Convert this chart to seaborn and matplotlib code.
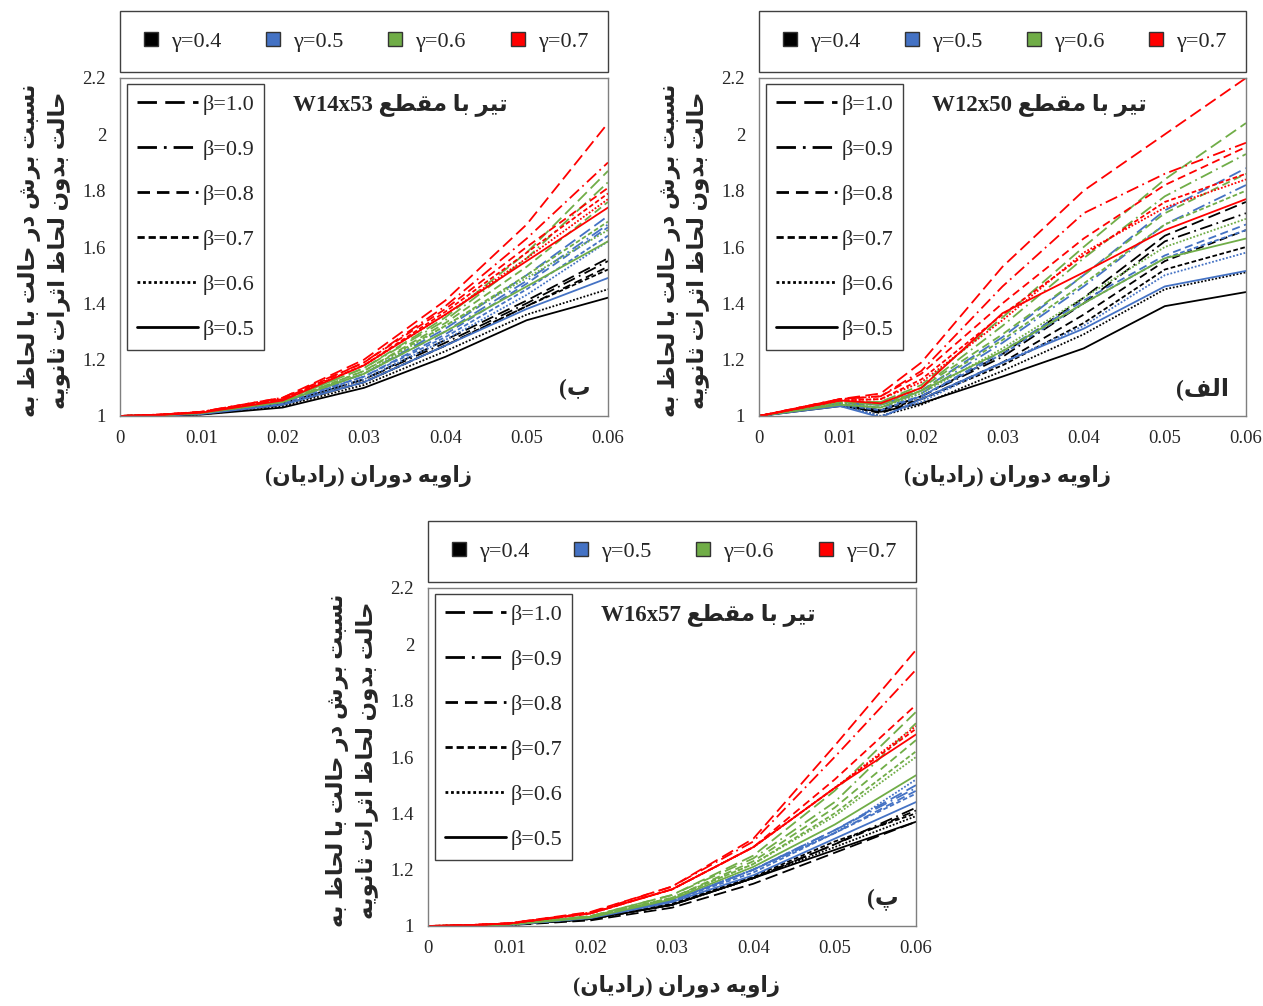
import pandas as pd
import matplotlib
matplotlib.use("Agg")
import matplotlib.pyplot as plt
from matplotlib.lines import Line2D
import seaborn as sns

# rotation angle (rad) at which each curve was sampled
x_w12x50 = [0, 0.01, 0.015, 0.02, 0.03, 0.04, 0.05, 0.06]
x_w14x53 = [0, 0.005, 0.01, 0.02, 0.03, 0.04, 0.05, 0.06]
x_w16x57 = [0, 0.005, 0.01, 0.02, 0.03, 0.04, 0.05, 0.06]

gammas = ["0.4", "0.5", "0.6", "0.7"]
betas = ["1.0", "0.9", "0.8", "0.7", "0.6", "0.5"]

x_ticks = [0, 0.01, 0.02, 0.03, 0.04, 0.05, 0.06]
x_tick_labels = ["0", "0.01", "0.02", "0.03", "0.04", "0.05", "0.06"]
y_ticks = [1, 1.2, 1.4, 1.6, 1.8, 2, 2.2]
y_tick_labels = ["1", "1.2", "1.4", "1.6", "1.8", "2", "2.2"]

# shear ratio, one row per beta (1.0 ... 0.5)
w12x50_g04 = [
    [1, 1.040, 1.020, 1.070, 1.220, 1.420, 1.640, 1.760],
    [1, 1.040, 1.020, 1.070, 1.210, 1.400, 1.620, 1.720],
    [1, 1.040, 1.010, 1.060, 1.190, 1.360, 1.550, 1.660],
    [1, 1.040, 1.020, 1.060, 1.180, 1.330, 1.520, 1.600],
    [1, 1.040, 1.000, 1.040, 1.160, 1.290, 1.450, 1.510],
    [1, 1.035, 1.015, 1.045, 1.140, 1.240, 1.390, 1.440],
]
w12x50_g05 = [
    [1, 1.045, 1.040, 1.090, 1.280, 1.500, 1.730, 1.880],
    [1, 1.045, 1.040, 1.080, 1.260, 1.460, 1.680, 1.820],
    [1, 1.040, 1.030, 1.070, 1.230, 1.410, 1.570, 1.680],
    [1, 1.040, 1.020, 1.070, 1.220, 1.400, 1.560, 1.660],
    [1, 1.040, 1.000, 1.050, 1.190, 1.320, 1.500, 1.580],
    [1, 1.035, 0.995, 1.060, 1.190, 1.310, 1.460, 1.515],
]
w12x50_g06 = [
    [1, 1.050, 1.050, 1.110, 1.350, 1.600, 1.840, 2.040],
    [1, 1.050, 1.050, 1.100, 1.320, 1.560, 1.780, 1.930],
    [1, 1.050, 1.040, 1.100, 1.290, 1.500, 1.720, 1.860],
    [1, 1.050, 1.040, 1.090, 1.270, 1.470, 1.680, 1.800],
    [1, 1.045, 1.030, 1.080, 1.240, 1.420, 1.600, 1.700],
    [1, 1.040, 1.030, 1.090, 1.230, 1.400, 1.560, 1.630],
]
w12x50_g07 = [
    [1, 1.060, 1.080, 1.190, 1.530, 1.800, 2.000, 2.200],
    [1, 1.060, 1.070, 1.160, 1.460, 1.720, 1.860, 1.970],
    [1, 1.060, 1.070, 1.150, 1.400, 1.630, 1.820, 1.955],
    [1, 1.055, 1.060, 1.130, 1.360, 1.570, 1.760, 1.860],
    [1, 1.055, 1.060, 1.120, 1.340, 1.580, 1.740, 1.840],
    [1, 1.055, 1.045, 1.100, 1.365, 1.510, 1.660, 1.770],
]

w14x53_g04 = [
    [1, 1.002, 1.008, 1.045, 1.130, 1.270, 1.410, 1.560],
    [1, 1.002, 1.008, 1.045, 1.130, 1.260, 1.400, 1.550],
    [1, 1.002, 1.007, 1.040, 1.120, 1.250, 1.390, 1.530],
    [1, 1.002, 1.007, 1.040, 1.120, 1.250, 1.390, 1.520],
    [1, 1.002, 1.006, 1.035, 1.110, 1.230, 1.360, 1.450],
    [1, 1.001, 1.005, 1.030, 1.100, 1.210, 1.340, 1.420],
]
w14x53_g05 = [
    [1, 1.003, 1.010, 1.050, 1.150, 1.310, 1.500, 1.710],
    [1, 1.003, 1.010, 1.050, 1.150, 1.300, 1.480, 1.680],
    [1, 1.003, 1.010, 1.050, 1.140, 1.290, 1.470, 1.670],
    [1, 1.003, 1.009, 1.045, 1.140, 1.280, 1.450, 1.640],
    [1, 1.003, 1.009, 1.045, 1.130, 1.270, 1.430, 1.620],
    [1, 1.002, 1.007, 1.040, 1.120, 1.250, 1.380, 1.490],
]
w14x53_g06 = [
    [1, 1.004, 1.012, 1.055, 1.170, 1.350, 1.580, 1.870],
    [1, 1.004, 1.012, 1.055, 1.170, 1.340, 1.560, 1.830],
    [1, 1.004, 1.011, 1.050, 1.160, 1.330, 1.530, 1.760],
    [1, 1.004, 1.011, 1.050, 1.160, 1.320, 1.500, 1.690],
    [1, 1.004, 1.010, 1.050, 1.150, 1.320, 1.490, 1.660],
    [1, 1.003, 1.010, 1.050, 1.150, 1.300, 1.460, 1.620],
]
w14x53_g07 = [
    [1, 1.005, 1.015, 1.065, 1.200, 1.410, 1.680, 2.040],
    [1, 1.005, 1.015, 1.065, 1.190, 1.390, 1.630, 1.900],
    [1, 1.005, 1.014, 1.060, 1.190, 1.380, 1.600, 1.810],
    [1, 1.005, 1.014, 1.060, 1.180, 1.370, 1.580, 1.790],
    [1, 1.005, 1.013, 1.060, 1.180, 1.360, 1.560, 1.770],
    [1, 1.004, 1.012, 1.055, 1.180, 1.360, 1.550, 1.740],
]

w16x57_g04 = [
    [1, 1.000, 1.003, 1.020, 1.065, 1.150, 1.260, 1.370],
    [1, 1.001, 1.004, 1.025, 1.075, 1.170, 1.290, 1.420],
    [1, 1.001, 1.004, 1.025, 1.075, 1.170, 1.290, 1.410],
    [1, 1.001, 1.004, 1.025, 1.080, 1.175, 1.300, 1.400],
    [1, 1.001, 1.004, 1.025, 1.075, 1.170, 1.280, 1.390],
    [1, 1.001, 1.004, 1.025, 1.075, 1.170, 1.270, 1.370],
]
w16x57_g05 = [
    [1, 1.001, 1.005, 1.030, 1.090, 1.200, 1.340, 1.500],
    [1, 1.001, 1.005, 1.030, 1.090, 1.200, 1.340, 1.490],
    [1, 1.001, 1.005, 1.030, 1.090, 1.200, 1.330, 1.480],
    [1, 1.001, 1.005, 1.030, 1.090, 1.190, 1.330, 1.470],
    [1, 1.001, 1.005, 1.030, 1.090, 1.200, 1.330, 1.520],
    [1, 1.001, 1.004, 1.028, 1.085, 1.180, 1.310, 1.440],
]
w16x57_g06 = [
    [1, 1.002, 1.007, 1.035, 1.110, 1.250, 1.480, 1.760],
    [1, 1.002, 1.007, 1.035, 1.110, 1.240, 1.440, 1.720],
    [1, 1.002, 1.006, 1.035, 1.100, 1.230, 1.420, 1.660],
    [1, 1.002, 1.006, 1.033, 1.100, 1.220, 1.400, 1.620],
    [1, 1.002, 1.006, 1.033, 1.100, 1.220, 1.390, 1.600],
    [1, 1.002, 1.005, 1.030, 1.095, 1.210, 1.360, 1.535],
]
w16x57_g07 = [
    [1, 1.003, 1.010, 1.050, 1.140, 1.310, 1.640, 1.980],
    [1, 1.003, 1.010, 1.048, 1.140, 1.300, 1.600, 1.910],
    [1, 1.003, 1.009, 1.045, 1.130, 1.280, 1.520, 1.785],
    [1, 1.003, 1.009, 1.045, 1.130, 1.280, 1.490, 1.700],
    [1, 1.003, 1.009, 1.045, 1.130, 1.280, 1.490, 1.710],
    [1, 1.003, 1.009, 1.045, 1.130, 1.280, 1.490, 1.680],
]

colors = {"0.4": "#000000", "0.5": "#4472C4", "0.6": "#70AD47", "0.7": "#FF0000"}
dash_styles = {"1.0": (7, 3), "0.9": (7, 2.5, 1, 2.5), "0.8": (4.5, 2.5),
               "0.7": (2.6, 1.4), "0.6": (1, 1), "0.5": ""}

# Arabic presentation forms: isolated, final, initial, medial
FORMS = {
    "ا": (0x0627, 0xFE8E), "د": (0x062F, 0xFEAA), "ر": (0x0631, 0xFEAE),
    "ز": (0x0632, 0xFEB0), "و": (0x0648, 0xFEEE),
    "ب": (0x0628, 0xFE90, 0xFE91, 0xFE92), "ت": (0x062A, 0xFE96, 0xFE97, 0xFE98),
    "ث": (0x062B, 0xFE9A, 0xFE9B, 0xFE9C), "ح": (0x062D, 0xFEA2, 0xFEA3, 0xFEA4),
    "س": (0x0633, 0xFEB2, 0xFEB3, 0xFEB4), "ش": (0x0634, 0xFEB6, 0xFEB7, 0xFEB8),
    "ط": (0x0637, 0xFEC2, 0xFEC3, 0xFEC4), "ظ": (0x0638, 0xFEC6, 0xFEC7, 0xFEC8),
    "ع": (0x0639, 0xFECA, 0xFECB, 0xFECC), "ف": (0x0641, 0xFED2, 0xFED3, 0xFED4),
    "ق": (0x0642, 0xFED6, 0xFED7, 0xFED8), "ل": (0x0644, 0xFEDE, 0xFEDF, 0xFEE0),
    "م": (0x0645, 0xFEE2, 0xFEE3, 0xFEE4), "ن": (0x0646, 0xFEE6, 0xFEE7, 0xFEE8),
    "ه": (0x0647, 0xFEEA, 0xFEEB, 0xFEEC), "ی": (0x06CC, 0xFBFD, 0xFEF3, 0xFEF4),
    "پ": (0x067E, 0xFB57, 0xFB58, 0xFB59),
}
MIRROR = {"(": ")", ")": "("}


def shape(text):
    """Join Persian letters and return them in visual (left-to-right) order."""
    out = []
    for i, c in enumerate(text):
        if c not in FORMS:
            out.append(MIRROR.get(c, c))
            continue
        f = FORMS[c]
        prev_ok = i > 0 and len(FORMS.get(text[i - 1], ())) == 4
        next_ok = len(f) == 4 and i < len(text) - 1 and text[i + 1] in FORMS
        idx = 3 if prev_ok and next_ok else 1 if prev_ok else 2 if next_ok else 0
        out.append(chr(f[idx]))
    return "".join(reversed(out))


def build_frame(x, curves):
    rows = []
    for g, block in zip(gammas, curves):
        for b, ys in zip(betas, block):
            for xv, yv in zip(x, ys):
                rows.append((xv, yv, g, b))
    return pd.DataFrame(rows, columns=["rot", "ratio", "gamma", "beta"])


sns.set_style("white")
plt.rcParams["font.family"] = ["Liberation Serif", "DejaVu Sans"]
FAM = ["Liberation Serif", "DejaVu Sans"]

y_label = shape("نسبت برش در حالت با لحاظ به") + "\n" + shape("حالت بدون لحاظ اثرات ثانویه")
x_label = shape("زاویه دوران (رادیان)")

panels = [
    (x_w14x53, [w14x53_g04, w14x53_g05, w14x53_g06, w14x53_g07], "W14x53", "ب)",
     [120 / 1263, 590 / 1006, 488 / 1263, 338 / 1006]),
    (x_w12x50, [w12x50_g04, w12x50_g05, w12x50_g06, w12x50_g07], "W12x50", "الف)",
     [759 / 1263, 590 / 1006, 487 / 1263, 338 / 1006]),
    (x_w16x57, [w16x57_g04, w16x57_g05, w16x57_g06, w16x57_g07], "W16x57", "پ)",
     [428 / 1263, 80 / 1006, 488 / 1263, 338 / 1006]),
]

fig = plt.figure(figsize=(12.63, 10.06), dpi=100)

for x, curves, section, tag, pos in panels:
    ax = fig.add_axes(pos)
    df = build_frame(x, curves)
    sns.lineplot(data=df, x="rot", y="ratio", hue="gamma", style="beta",
                 hue_order=gammas, style_order=betas, palette=colors,
                 dashes=dash_styles, lw=1.3, errorbar=None, legend=False, ax=ax)

    ax.set_xlim(0, 0.06)
    ax.set_ylim(1, 2.2)
    ax.set_xticks(x_ticks)
    ax.set_xticklabels(x_tick_labels)
    ax.set_yticks(y_ticks)
    ax.set_yticklabels(y_tick_labels)
    ax.tick_params(length=0, pad=10, labelsize=13.5)
    ax.set_xlabel("")
    ax.set_ylabel("")
    for sp in ax.spines.values():
        sp.set_color("#7f7f7f")
        sp.set_linewidth(1)

    ax.text(-0.155, 0.49, y_label, transform=ax.transAxes, rotation=90,
            ha="center", va="center", multialignment="center",
            fontsize=16.5, fontweight="bold", family=FAM, linespacing=1.35)
    ax.text(0.51, -0.175, x_label, transform=ax.transAxes, ha="center",
            va="center", fontsize=15.5, fontweight="bold", family=FAM)
    ax.text(0.575, 0.92, section + " " + shape("تیر با مقطع"), transform=ax.transAxes,
            ha="center", va="center", fontsize=16.5, fontweight="bold", family=FAM)
    ax.text(0.965, 0.08, shape(tag), transform=ax.transAxes, ha="right",
            va="center", fontsize=17, fontweight="bold", family=FAM)

    beta_handles = [Line2D([], [], color="black", lw=2,
                           **({"dashes": dash_styles[b]} if dash_styles[b] else {"ls": "-"}))
                    for b in betas]
    leg_b = ax.legend(beta_handles, ["β=" + b for b in betas], loc="upper left",
                      bbox_to_anchor=(0.014, 0.982), borderaxespad=0, fontsize=16,
                      handlelength=2.75, handletextpad=0.2, labelspacing=1.1,
                      borderpad=0.45, fancybox=False, edgecolor="#404040", framealpha=1)
    leg_b.get_frame().set_linewidth(1)
    ax.add_artist(leg_b)

    gamma_handles = [Line2D([], [], ls="none", marker="s", markersize=10,
                            markerfacecolor=colors[g], markeredgecolor="#333333")
                     for g in gammas]
    leg_g = ax.legend(gamma_handles, ["γ=" + g for g in gammas], loc="lower left",
                      bbox_to_anchor=(0, 1.018, 1, 0.175), mode="expand", ncol=4,
                      borderaxespad=0, fontsize=16, handletextpad=0.4, borderpad=0.9,
                      handlelength=1.0, fancybox=False, edgecolor="#404040", framealpha=1)
    leg_g.get_frame().set_linewidth(1)

fig.savefig("out.png", dpi=100)
